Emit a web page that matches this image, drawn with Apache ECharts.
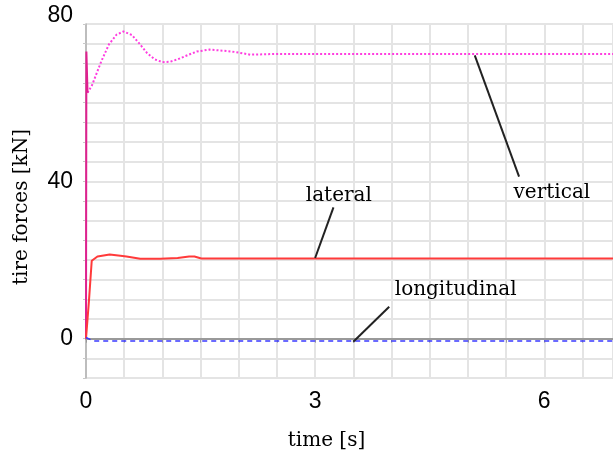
<!DOCTYPE html>
<html>
<head>
<meta charset="utf-8">
<script src="https://cdn.jsdelivr.net/npm/echarts@6/dist/echarts.min.js"></script>
<style>
  html, body { margin: 0; padding: 0; background: #fff; }
  #chart { width: 613px; height: 459px; }
</style>
</head>
<body>
<div id="chart"></div>
<script>
// time [s] and force [kN]
var vertT = [0, 0.005, 0.02, 0.08, 0.15, 0.2, 0.3, 0.4, 0.49, 0.6, 0.7, 0.8, 0.9, 1.0, 1.1, 1.2, 1.32, 1.45, 1.62, 1.8, 1.95, 2.15, 2.5, 3.5, 5.0, 6.9];
var vertF = [0, 73, 62.5, 64.5, 68, 70.5, 74.8, 77.3, 78.1, 77.2, 75, 72.6, 71, 70.3, 70.4, 71, 72, 73, 73.5, 73.2, 72.9, 72.2, 72.4, 72.4, 72.4, 72.4];

var latT = [0, 0.04, 0.075, 0.15, 0.31, 0.45, 0.53, 0.71, 0.97, 1.2, 1.35, 1.42, 1.51, 2.0, 6.9];
var latF = [0, 10, 19.8, 20.9, 21.4, 21.1, 20.9, 20.3, 20.3, 20.5, 20.9, 20.9, 20.4, 20.4, 20.4];

var lonT = [0, 0.1, 6.9];
var lonF = [0.3, -0.6, -0.6];

var xTickLabels = [0, 3, 6];
var yTickLabels = [0, 40, 80];

function pairs(t, f) {
    return t.map(function (v, i) { return [v, f[i]]; });
}

var chart = echarts.init(document.getElementById('chart'));

var tickFont = '"Liberation Sans Narrow", "Liberation Sans", sans-serif';
var serif = '"DejaVu Serif", serif';

var noteLine = {
    silent: true,
    symbol: ['none', 'none'],
    label: { show: false },
    lineStyle: { color: '#222', width: 2, type: 'solid' }
};
var noteText = function (name, coord) {
    return {
        name: name, coord: coord, symbol: 'rect', symbolSize: 1,
        itemStyle: { color: 'rgba(0,0,0,0)' },
        label: { show: true, position: 'inside', formatter: name, color: '#000', fontFamily: serif, fontSize: 20 }
    };
};

var vertPts = pairs(vertT, vertF);

var option = {
    backgroundColor: '#fff',
    animation: false,
    grid: {
        left: 86, top: 24, right: 0, bottom: 81,
        show: true, borderColor: '#c4c4c4', borderWidth: 1
    },
    xAxis: {
        type: 'value', min: 0, max: 6.9, interval: 0.5,
        name: 'time [s]', nameLocation: 'middle', nameGap: 53,
        nameTextStyle: { fontFamily: serif, fontSize: 20, color: '#000', padding: [0, 46, 0, 0] },
        axisLine: { show: true, lineStyle: { color: '#999', width: 2 } },
        axisTick: { show: true, length: 4, lineStyle: { color: '#999' } },
        axisLabel: {
            showMaxLabel: false, margin: 12, color: '#000', fontFamily: tickFont, fontSize: 23,
            formatter: function (v) {
                for (var i = 0; i < xTickLabels.length; i++) {
                    if (Math.abs(v - xTickLabels[i]) < 1e-6) {
                        return v === 0 ? '{lo|0}' : String(xTickLabels[i]);
                    }
                }
                return '';
            },
            rich: { lo: { fontFamily: tickFont, fontSize: 23, color: '#000', padding: [0, 0, 10, 0] } }
        },
        splitLine: { show: true, lineStyle: { color: '#e4e4e4', width: 2 } }
    },
    yAxis: {
        type: 'value', min: -10, max: 80, interval: 5,
        name: 'tire forces [kN]', nameLocation: 'middle', nameGap: 54,
        nameTextStyle: { fontFamily: serif, fontSize: 20, color: '#000', padding: [0, 12, 0, 0] },
        axisLine: { show: true, lineStyle: { color: '#b0b0b0', width: 1.5 } },
        axisTick: { show: true, length: 3, lineStyle: { color: '#c8c8c8' } },
        axisLabel: {
            margin: 13, color: '#000', fontFamily: tickFont, fontSize: 23,
            formatter: function (v) {
                if (yTickLabels.indexOf(v) < 0) return '';
                return v === 80 ? '{up|80}' : String(v);
            },
            rich: { up: { fontFamily: tickFont, fontSize: 23, color: '#000', padding: [0, 0, 16, 0] } }
        },
        splitLine: { show: true, lineStyle: { color: '#e4e4e4', width: 2 } }
    },
    series: [
        {
            name: 'vertical', type: 'line', showSymbol: false,
            data: vertPts.slice(2),
            lineStyle: { color: '#ff3de0', width: 2, type: [2, 2] },
            markLine: Object.assign({ data: [[{ coord: [5.09, 72.0] }, { coord: [5.67, 41.2] }]] }, noteLine),
            markPoint: { silent: true, data: [noteText('vertical', [6.10, 37.2])] }
        },
        {
            name: 'vertical start', type: 'line', showSymbol: false,
            data: vertPts.slice(0, 3),
            lineStyle: { color: '#e0208f', width: 2 }
        },
        {
            name: 'lateral', type: 'line', showSymbol: false,
            data: pairs(latT, latF),
            lineStyle: { color: '#ff3a3a', width: 2 },
            markLine: Object.assign({ data: [[{ coord: [3.0, 20.5] }, { coord: [3.24, 33.4] }]] }, noteLine),
            markPoint: { silent: true, data: [noteText('lateral', [3.31, 36.4])] }
        },
        {
            name: 'longitudinal', type: 'line', showSymbol: false,
            data: pairs(lonT, lonF),
            lineStyle: { color: '#3a3aff', width: 1.5, type: [5, 4] },
            markLine: Object.assign({ data: [[{ coord: [3.5, -0.8] }, { coord: [3.97, 8.1] }]] }, noteLine),
            markPoint: { silent: true, data: [noteText('longitudinal', [4.84, 12.5])] }
        }
    ]
};

chart.setOption(option);
</script>
</body>
</html>
